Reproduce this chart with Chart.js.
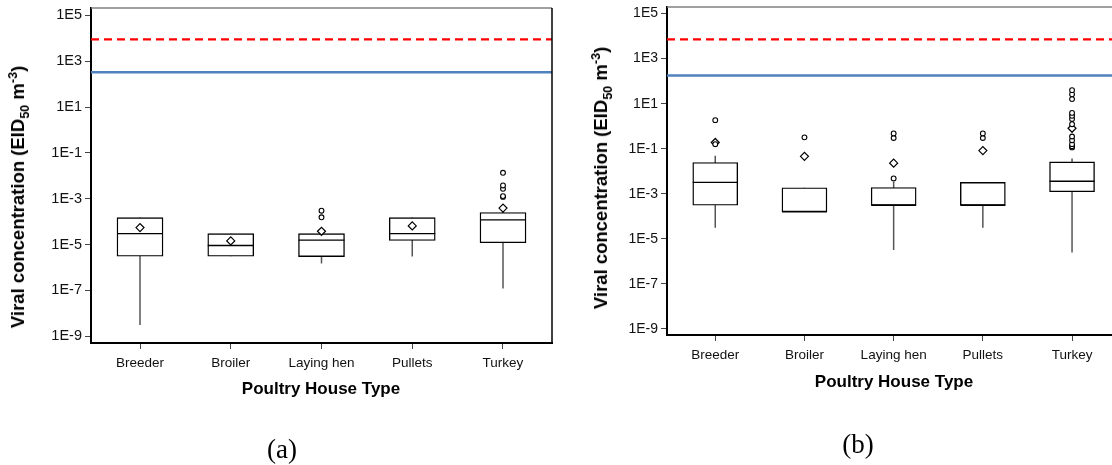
<!DOCTYPE html>
<html>
<head>
<meta charset="utf-8">
<script src="https://cdn.jsdelivr.net/npm/chart.js@4.4.1/dist/chart.umd.min.js"></script>
<style>
  html, body { margin: 0; padding: 0; background: #fff; overflow: hidden; }
  body { width: 1112px; height: 465px; position: relative; font-family: "Liberation Sans", Arial, sans-serif; color: #000; }
  .panel { position: absolute; top: 0; height: 400px; }
  #pa { left: 0; width: 560px; }
  #pb { left: 560px; width: 570px; }
  .ytitle { position: absolute; font-weight: bold; font-size: 18.5px; white-space: nowrap; transform: translate(-50%, -50%) rotate(-90deg); }
  .xtitle { position: absolute; font-weight: bold; font-size: 17px; white-space: nowrap; transform: translate(-50%, -50%); }
  .tag { position: absolute; font-family: "Liberation Serif", "Times New Roman", serif; font-size: 27px; transform: translate(-50%, -50%); }
  sub, sup { font-size: 0.68em; line-height: 0; }
</style>
</head>
<body>
<div class="panel" id="pa"><canvas id="chartA"></canvas></div>
<div class="panel" id="pb"><canvas id="chartB"></canvas></div>

<div class="ytitle" style="left:18px; top:197px">Viral concentration (EID<sub>50</sub> m<sup>-3</sup>)</div>
<div class="ytitle" style="left:601px; top:178px">Viral concentration (EID<sub>50</sub> m<sup>-3</sup>)</div>
<div class="xtitle" style="left:321px; top:389px">Poultry House Type</div>
<div class="xtitle" style="left:894px; top:382px">Poultry House Type</div>
<div class="tag" style="left:282px; top:449px">(a)</div>
<div class="tag" style="left:858px; top:444px">(b)</div>

<script>
const categories = ['Breeder', 'Broiler', 'Laying hen', 'Pullets', 'Turkey']
const yTickValues = [1e-9, 1e-7, 1e-5, 1e-3, 1e-1, 1e1, 1e3, 1e5]
const yTickLabels = ['1E-9', '1E-7', '1E-5', '1E-3', '1E-1', '1E1', '1E3', '1E5']

// panel (a)
const aLow  = [3.1e-9, 3.1e-6, 1.5e-6, 3.0e-6, 1.2e-7]
const aQ1   = [3.1e-6, 3.1e-6, 3.0e-6, 1.5e-5, 1.2e-5]
const aMed  = [3.0e-5, 9.1e-6, 1.55e-5, 3.0e-5, 1.2e-4]
const aQ3   = [1.5e-4, 3.0e-5, 3.0e-5, 1.5e-4, 2.5e-4]
const aHigh = [1.5e-4, 3.0e-5, 4.0e-5, 1.5e-4, 4.0e-4]
const aMean = [5.5e-5, 1.45e-5, 3.8e-5, 6.5e-5, 3.9e-4]
const aOutliers = [[], [], [1.55e-4, 3.0e-4], [], [1.2e-3, 1.3e-3, 2.7e-3, 3.8e-3, 1.35e-2]]
const aRedLine = 8900
const aBlueLine = 330

// panel (b)
const bLow  = [3.1e-5, 1.6e-4, 3.2e-6, 3.1e-5, 2.5e-6]
const bQ1   = [3.1e-4, 1.6e-4, 3.1e-4, 3.1e-4, 1.23e-3]
const bMed  = [3.2e-3, 1.6e-4, 3.1e-4, 3.1e-4, 3.6e-3]
const bQ3   = [2.45e-2, 1.86e-3, 1.9e-3, 3.2e-3, 2.6e-2]
const bHigh = [4.9e-2, 1.86e-3, 3.4e-3, 3.2e-3, 3.7e-2]
const bMean = [0.19, 4.6e-2, 2.3e-2, 8.3e-2, 0.81]
const bOutliers = [[0.16, 1.86], [0.32], [4.8e-3, 0.30, 0.48], [0.30, 0.48],
    [0.115, 0.13, 0.16, 0.24, 0.35, 1.23, 2.1, 2.9, 3.9, 16, 26, 40]]
const bRedLine = 7100
const bBlueLine = 178

const frame = {
    id: 'frame',
    afterDraw(chart) {
        const {ctx, chartArea: a} = chart
        ctx.save()
        ctx.lineWidth = 1.5
        ctx.strokeStyle = '#808080'
        ctx.beginPath(); ctx.moveTo(a.left, a.top); ctx.lineTo(a.right, a.top); ctx.stroke()
        ctx.strokeStyle = '#000'
        ctx.beginPath(); ctx.moveTo(a.right, a.top); ctx.lineTo(a.right, a.bottom); ctx.stroke()
        ctx.restore()
    }
}

function boxChart(el, d, g) {
    const xs = categories.map((c, i) => i)
    const outPts = []
    d.outliers.forEach((list, i) => list.forEach(v => outPts.push({x: i, y: v})))
    return new Chart(el, {
        type: 'bar',
        data: {
            datasets: [
                { type: 'line', data: [{x: g.xMin, y: d.red}, {x: g.xMax, y: d.red}],
                  borderColor: '#ff0000', borderWidth: 2.2, borderDash: [8, 5], pointRadius: 0, order: 7 },
                { type: 'line', data: [{x: g.xMin, y: d.blue}, {x: g.xMax, y: d.blue}],
                  borderColor: '#4f81bd', borderWidth: 2.5, pointRadius: 0, order: 6 },
                { data: xs.map(i => ({x: i, y: [d.low[i], d.high[i]]})),
                  backgroundColor: '#555', borderWidth: 0, inflateAmount: 0, barThickness: 1.5, grouped: false, order: 5 },
                { data: xs.map(i => ({x: i, y: [d.q1[i], d.q3[i]]})),
                  backgroundColor: '#fff', borderColor: '#000', borderWidth: 1.4, borderSkipped: false,
                  barThickness: g.box, grouped: false, order: 4 },
                { type: 'line', data: xs.map(i => ({x: i, y: d.med[i]})), showLine: false,
                  pointStyle: 'line', pointRadius: g.box / 2, pointBorderColor: '#000', pointBorderWidth: 1.3, order: 3 },
                { type: 'line', data: xs.map(i => ({x: i, y: d.mean[i]})), showLine: false,
                  pointStyle: 'rectRot', pointRadius: 4, pointBackgroundColor: '#fff',
                  pointBorderColor: '#000', pointBorderWidth: 1.2, order: 2 },
                { type: 'line', data: outPts, showLine: false,
                  pointStyle: 'circle', pointRadius: 2.4, pointBackgroundColor: '#fff',
                  pointBorderColor: '#000', pointBorderWidth: 1.1, order: 1 }
            ]
        },
        options: {
            responsive: true,
            maintainAspectRatio: false,
            animation: false,
            events: [],
            layout: { autoPadding: false, padding: { top: g.top, right: g.right, left: 0, bottom: 0 } },
            plugins: { legend: { display: false }, tooltip: { enabled: false } },
            scales: {
                x: {
                    type: 'linear', min: g.xMin, max: g.xMax, offset: false,
                    afterFit: s => { s.height = g.xAxisH; s.paddingLeft = 0; s.paddingRight = 0 },
                    afterBuildTicks: s => { s.ticks = xs.map(v => ({value: v})) },
                    grid: { drawOnChartArea: false, tickLength: 6, color: '#444', offset: false },
                    border: { color: '#000', width: 2 },
                    ticks: { callback: (v, i) => categories[i], autoSkip: false, maxRotation: 0,
                             font: { family: '"Liberation Sans", Arial, sans-serif', size: 13.5 },
                             color: '#111', padding: 6 }
                },
                y: {
                    type: 'logarithmic', min: g.yMin, max: g.yMax,
                    afterFit: s => { s.width = g.yAxisW; s.paddingTop = 0; s.paddingBottom = 0 },
                    afterBuildTicks: s => { s.ticks = yTickValues.map(v => ({value: v})) },
                    grid: { drawOnChartArea: false, tickLength: 6, color: '#444' },
                    border: { color: '#000', width: 2 },
                    ticks: { callback: (v, i) => yTickLabels[i], autoSkip: false,
                             font: { family: '"Liberation Sans", Arial, sans-serif', size: g.yFont },
                             color: '#111', padding: 3 }
                }
            }
        },
        plugins: [frame]
    })
}

boxChart(document.getElementById('chartA'),
    { low: aLow, q1: aQ1, med: aMed, q3: aQ3, high: aHigh, mean: aMean, outliers: aOutliers, red: aRedLine, blue: aBlueLine },
    { xMin: -0.54, xMax: 4.54, yMin: 5.1e-10, yMax: 2.08e5, top: 8, right: 8, xAxisH: 57, yAxisW: 91, box: 46, yFont: 14.5 })

boxChart(document.getElementById('chartB'),
    { low: bLow, q1: bQ1, med: bMed, q3: bQ3, high: bHigh, mean: bMean, outliers: bOutliers, red: bRedLine, blue: bBlueLine },
    { xMin: -0.541, xMax: 4.541, yMin: 5.4e-10, yMax: 1.96e5, top: 7, right: 9.7, xAxisH: 65, yAxisW: 107, box: 45, yFont: 14 })
</script>
</body>
</html>
